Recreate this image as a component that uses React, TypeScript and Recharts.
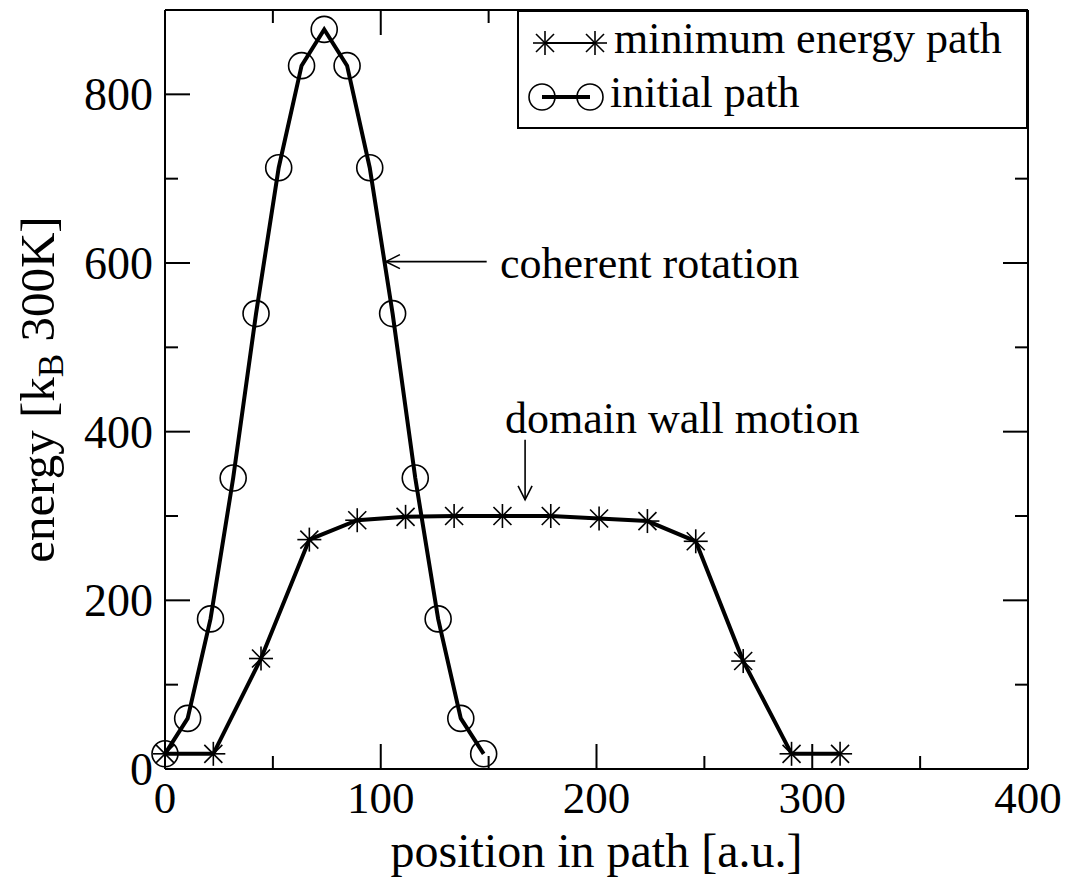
import React from 'react';
import { LineChart, Line, XAxis, YAxis, Legend, ReferenceLine, ReferenceDot } from 'recharts';

const mepX = [0, 22.4, 44.5, 66.9, 89.1, 111.5, 134.0, 156.4, 178.8, 201.2, 223.6, 246.0, 268.0, 290.4, 312.9];
const mepY = [18, 18, 131, 272, 295, 299, 300, 300, 300, 297, 294, 270, 128, 18, 18];
const initX = [0, 10.5, 21.1, 31.6, 42.2, 52.7, 63.3, 73.8, 84.4, 94.9, 105.5, 116.0, 126.6, 137.1, 147.7];
const initY = [18, 60, 178, 345, 540, 713, 834, 877, 834, 713, 540, 345, 178, 60, 18];

const xTicks = [0, 50, 100, 150, 200, 250, 300, 350, 400];
const yTicks = [0, 100, 200, 300, 400, 500, 600, 700, 800];

const mepData = mepX.map((x, i) => ({ x, y: mepY[i] }));
const initData = initX.map((x, i) => ({ x, y: initY[i] }));

const FONT = '"Liberation Serif", "Times New Roman", serif';
const MAJ = 25;
const MIN = 13;

const W = 1069;
const H = 877;
const MARGIN = { top: 9, right: 40, bottom: 48, left: 105 };
const X_AXIS_H = 60;
const Y_AXIS_W = 60;
const PLOT_H = H - MARGIN.top - 1 - MARGIN.bottom - X_AXIS_H;
const PLOT_W = W - MARGIN.left - Y_AXIS_W - MARGIN.right - 1;

const Star = ({ cx, cy, s = 12, d = 9 }: any) => (
  <g stroke="#000" strokeWidth={1.6} fill="none">
    <line x1={cx - s} y1={cy} x2={cx + s} y2={cy} />
    <line x1={cx} y1={cy - s} x2={cx} y2={cy + s} />
    <line x1={cx - d} y1={cy - d} x2={cx + d} y2={cy + d} />
    <line x1={cx - d} y1={cy + d} x2={cx + d} y2={cy - d} />
  </g>
);

const Circ = ({ cx, cy }: any) => (
  <circle cx={cx} cy={cy} r={13} stroke="#000" strokeWidth={1.6} fill="none" />
);

const BottomTick = (props: any) => {
  const { x, y, payload } = props;
  const v = payload.value;
  const len = v % 100 === 0 ? MAJ : MIN;
  const top = y - PLOT_H;
  return (
    <g>
      <line x1={x} y1={y} x2={x} y2={y - len} stroke="#000" strokeWidth={2} />
      <line x1={x} y1={top} x2={x} y2={top + len} stroke="#000" strokeWidth={2} />
      {v % 100 === 0 && (
        <text x={x} y={y + 44} textAnchor="middle" fontFamily={FONT} fontSize={45} fill="#000">
          {v}
        </text>
      )}
    </g>
  );
};

const LeftTick = (props: any) => {
  const { x, y, payload } = props;
  const v = payload.value;
  const len = v % 200 === 0 ? MAJ : MIN;
  const right = x + PLOT_W;
  return (
    <g>
      <line x1={x} y1={y} x2={x + len} y2={y} stroke="#000" strokeWidth={2} />
      <line x1={right} y1={y} x2={right - len} y2={y} stroke="#000" strokeWidth={2} />
      {v % 200 === 0 && (
        <text x={x - 12} y={y + 16} textAnchor="end" fontFamily={FONT} fontSize={46} fill="#000">
          {v}
        </text>
      )}
    </g>
  );
};

const NoTick = () => <g />;

const LegendBox = () => (
  <svg width={511} height={119} style={{ display: 'block' }}>
    <rect x={1} y={1} width={509} height={117} fill="#fff" stroke="#000" strokeWidth={2} />
    <line x1={28} y1={33} x2={78} y2={33} stroke="#000" strokeWidth={2} />
    <Star cx={28} cy={33} />
    <Star cx={78} cy={33} />
    <text x={97} y={43} fontFamily={FONT} fontSize={44} fill="#000">minimum energy path</text>
    <line x1={25} y1={87} x2={73} y2={87} stroke="#000" strokeWidth={4} />
    <Circ cx={25} cy={87} />
    <Circ cx={73} cy={87} />
    <text x={93} y={97} fontFamily={FONT} fontSize={44} fill="#000">initial path</text>
  </svg>
);

const arrowShape = (dir: 'left' | 'down') => (props: any) => {
  const { x1, y1, x2, y2 } = props;
  const tx = x2, ty = y2;
  const heads =
    dir === 'left'
      ? [[tx + 14, ty - 7], [tx + 14, ty + 7]]
      : [[tx - 7, ty - 14], [tx + 7, ty - 14]];
  return (
    <g stroke="#000" strokeWidth={1.6} fill="none">
      <line x1={x1} y1={y1} x2={x2} y2={y2} />
      <polyline points={`${heads[0][0]},${heads[0][1]} ${tx},${ty} ${heads[1][0]},${heads[1][1]}`} />
    </g>
  );
};

const textShape = (label: string) => (props: any) => (
  <text x={props.cx} y={props.cy} fontFamily={FONT} fontSize={44} fill="#000">
    {label}
  </text>
);

export default function App() {
  return (
    <div style={{ position: 'absolute', left: 0, top: 0, width: W, height: H, background: '#fff' }}>
      <LineChart width={W} height={H} margin={MARGIN}>
        <XAxis
          xAxisId={0}
          type="number"
          dataKey="x"
          domain={[0, 400]}
          ticks={xTicks}
          interval={0}
          height={X_AXIS_H}
          tickSize={0}
          tickMargin={0}
          tickLine={false}
          axisLine={{ stroke: '#000', strokeWidth: 2 }}
          tick={BottomTick}
          label={{
            content: (p: any) => {
              const vb = p.viewBox;
              return (
                <text x={vb.x + vb.width / 2} y={vb.y + 98} textAnchor="middle" fontFamily={FONT} fontSize={48} fill="#000">
                  position in path [a.u.]
                </text>
              );
            },
          }}
        />
        <XAxis
          xAxisId="top"
          orientation="top"
          type="number"
          domain={[0, 400]}
          ticks={xTicks}
          interval={0}
          height={1}
          tickSize={0}
          tickMargin={0}
          tickLine={false}
          axisLine={{ stroke: '#000', strokeWidth: 2 }}
          tick={NoTick}
        />
        <YAxis
          yAxisId={0}
          type="number"
          domain={[0, 900]}
          ticks={yTicks}
          interval={0}
          width={Y_AXIS_W}
          tickSize={0}
          tickMargin={0}
          tickLine={false}
          axisLine={{ stroke: '#000', strokeWidth: 2 }}
          tick={LeftTick}
          label={{
            content: (p: any) => {
              const vb = p.viewBox;
              const cx = vb.x + vb.width - 111;
              const cy = vb.y + vb.height / 2;
              return (
                <text
                  x={cx}
                  y={cy}
                  textAnchor="middle"
                  transform={`rotate(-90 ${cx} ${cy})`}
                  fontFamily={FONT}
                  fontSize={49}
                  fill="#000"
                >
                  <tspan>energy [k</tspan>
                  <tspan dy={9} fontSize={35}>B</tspan>
                  <tspan dy={-9}> 300K]</tspan>
                </text>
              );
            },
          }}
        />
        <YAxis
          yAxisId="right"
          orientation="right"
          type="number"
          domain={[0, 900]}
          ticks={yTicks}
          interval={0}
          width={1}
          tickSize={0}
          tickMargin={0}
          tickLine={false}
          axisLine={{ stroke: '#000', strokeWidth: 2 }}
          tick={NoTick}
        />
        <Legend
          content={() => <LegendBox />}
          layout="horizontal"
          verticalAlign="middle"
          align="center"
          wrapperStyle={{ left: 517, top: 10, width: 511, height: 119 }}
        />
        <Line
          data={initData}
          dataKey="y"
          name="initial path"
          stroke="#000"
          strokeWidth={4}
          isAnimationActive={false}
          dot={(p: any) => <Circ key={`c${p.index}`} cx={p.cx} cy={p.cy} />}
          activeDot={false}
        />
        <Line
          data={mepData}
          dataKey="y"
          name="minimum energy path"
          stroke="#000"
          strokeWidth={4}
          isAnimationActive={false}
          dot={(p: any) => <Star key={`s${p.index}`} cx={p.cx} cy={p.cy} />}
          activeDot={false}
        />
        <ReferenceLine
          segment={[{ x: 149.1, y: 601.6 }, { x: 102.4, y: 601.6 }]}
          ifOverflow="visible"
          shape={arrowShape('left')}
        />
        <ReferenceLine
          segment={[{ x: 166.9, y: 390.3 }, { x: 166.9, y: 319.2 }]}
          ifOverflow="visible"
          shape={arrowShape('down')}
        />
        <ReferenceDot x={155.3} y={582.6} ifOverflow="visible" shape={textShape('coherent rotation')} />
        <ReferenceDot x={157.6} y={398.6} ifOverflow="visible" shape={textShape('domain wall motion')} />
      </LineChart>
    </div>
  );
}
